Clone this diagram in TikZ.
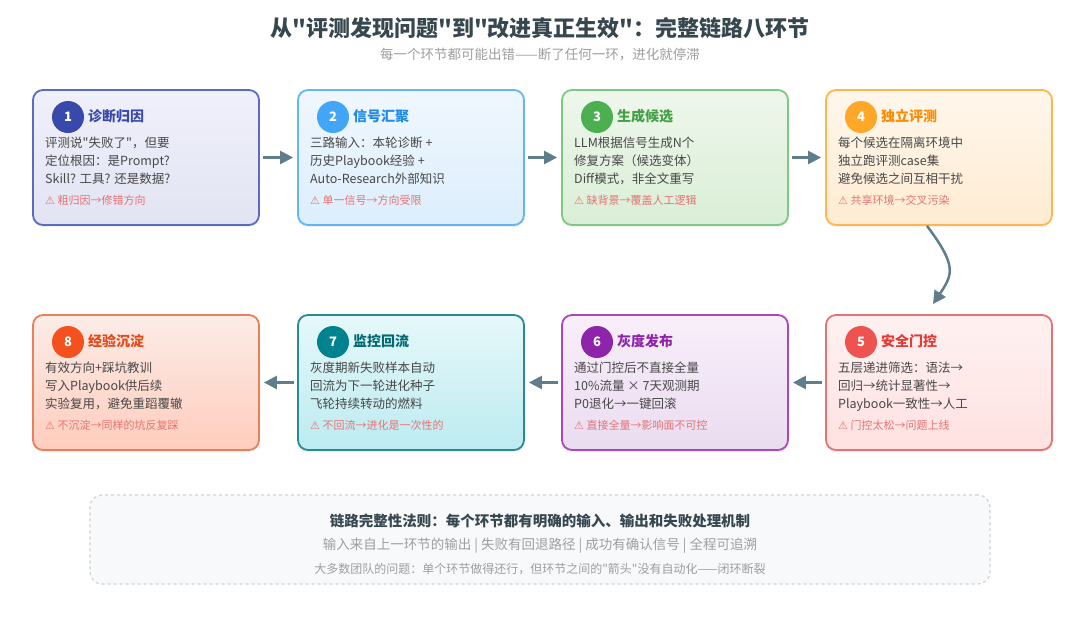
\documentclass[tikz,border=0pt]{standalone}
\usepackage{fontspec}
\setmainfont{Noto Sans CJK SC}
\newfontfamily\cjk{Noto Sans CJK SC}
\newfontfamily\symf{DejaVu Sans}
\AtBeginDocument{\cjk}
\usetikzlibrary{arrows.meta,shadows}

\definecolor{s1bd}{HTML}{5C6BC0}\definecolor{s1tp}{HTML}{EFF0FA}\definecolor{s1bt}{HTML}{E2E4F3}\definecolor{s1ci}{HTML}{3949AB}\definecolor{s1ti}{HTML}{3949AB}
\definecolor{s2bd}{HTML}{64B5F6}\definecolor{s2tp}{HTML}{F0F7FE}\definecolor{s2bt}{HTML}{DCEEFC}\definecolor{s2ci}{HTML}{42A5F5}\definecolor{s2ti}{HTML}{1E88E5}
\definecolor{s3bd}{HTML}{81C784}\definecolor{s3tp}{HTML}{EEF7EC}\definecolor{s3bt}{HTML}{DAEED6}\definecolor{s3ci}{HTML}{4CAF50}\definecolor{s3ti}{HTML}{43A047}
\definecolor{s4bd}{HTML}{FFB74D}\definecolor{s4tp}{HTML}{FFF7EC}\definecolor{s4bt}{HTML}{FFEBD2}\definecolor{s4ci}{HTML}{FFA726}\definecolor{s4ti}{HTML}{FB8C00}
\definecolor{s5bd}{HTML}{E57373}\definecolor{s5tp}{HTML}{FFF1F1}\definecolor{s5bt}{HTML}{FFE1E1}\definecolor{s5ci}{HTML}{EF5350}\definecolor{s5ti}{HTML}{E53935}
\definecolor{s6bd}{HTML}{AB47BC}\definecolor{s6tp}{HTML}{F8EFFA}\definecolor{s6bt}{HTML}{EADCF0}\definecolor{s6ci}{HTML}{8E24AA}\definecolor{s6ti}{HTML}{8E24AA}
\definecolor{s7bd}{HTML}{2A8A93}\definecolor{s7tp}{HTML}{E6F8FA}\definecolor{s7bt}{HTML}{BCEBF0}\definecolor{s7ci}{HTML}{00838F}\definecolor{s7ti}{HTML}{006A70}
\definecolor{s8bd}{HTML}{E8805C}\definecolor{s8tp}{HTML}{FCECE7}\definecolor{s8bt}{HTML}{FFCDBD}\definecolor{s8ci}{HTML}{F4511E}\definecolor{s8ti}{HTML}{E64A19}
\definecolor{bodygray}{HTML}{474747}
\definecolor{warnred}{HTML}{E57373}
\definecolor{arrowgray}{HTML}{607D8B}
\definecolor{titlegray}{HTML}{37474F}
\definecolor{subgray}{HTML}{9E9E9E}
\definecolor{rulefill}{HTML}{F8F9FA}
\definecolor{ruledraw}{HTML}{CDD2D6}

\tikzset{
  stagebox/.style={draw, rounded corners=10pt, line width=1.8pt, minimum width=226pt,
    minimum height=135pt, inner sep=0pt,
    drop shadow={opacity=0.10, shadow xshift=0pt, shadow yshift=-2pt}},
  numcirc/.style={circle, minimum size=32pt, inner sep=0pt, text=white,
    font=\fontsize{13}{13}\selectfont\bfseries},
  ttl/.style={font=\fontsize{14}{16}\selectfont\bfseries, anchor=base west, inner sep=0pt},
  bodyln/.style={font=\fontsize{12.5}{16}\selectfont, text=bodygray, anchor=base west, inner sep=0pt},
  warnln/.style={font=\fontsize{11}{13}\selectfont, text=warnred, anchor=base west, inner sep=0pt},
  flow/.style={draw=arrowgray, line width=2.5pt, -{Triangle[length=13pt,width=13pt]}},
  rulebox/.style={draw=ruledraw, fill=rulefill, dashed, line width=1.2pt, rounded corners=12pt,
    minimum width=900pt, minimum height=89pt, inner sep=0pt},
}

% #1 name, #2 left x, #3 top y, #4 colour prefix, #5 number, #6 title, #7 lines, #8 warning
\newcommand\makestage[8]{%
  \node[stagebox, draw=#4bd, top color=#4tp, bottom color=#4bt] (#1) at ({#2+113},{#3+67.5}) {};
  \node[numcirc, fill=#4ci] (#1n) at ({#2+35},{#3+27}) {#5};
  \node[ttl, text=#4ti] (#1t) at ({#2+55},{#3+31}) {#6};
  \foreach \lnx [count=\k] in {#7} {
    \node[bodyln] (#1l\k) at ({#2+12},{#3+57+18*(\k-1)}) {\lnx};
  }
  \node[warnln] (#1w) at ({#2+12},{#3+114}) {{\symf ⚠} #8};
}

\begin{document}
\begin{tikzpicture}[x=1pt,y=-1pt]
\useasboundingbox[fill=white] (0,0) rectangle (1080,630);

\node[font=\fontsize{22}{25}\selectfont\bfseries, text=titlegray] (title) at (540,28)
  {从"评测发现问题"到"改进真正生效"：完整链路八环节};
\node[font=\fontsize{13.5}{15}\selectfont, text=subgray] (subtitle) at (540,55)
  {每一个环节都可能出错——断了任何一环，进化就停滞};

\makestage{s1}{33}{90}{s1}{1}{诊断归因}
  {评测说"失败了"，但要, 定位根因：是Prompt?, Skill? 工具? 还是数据?}{粗归因→修错方向}
\makestage{s2}{298}{90}{s2}{2}{信号汇聚}
  {三路输入：本轮诊断 +, 历史Playbook经验 +, Auto-Research外部知识}{单一信号→方向受限}
\makestage{s3}{562}{90}{s3}{3}{生成候选}
  {LLM根据信号生成N个, 修复方案（候选变体）, Diff模式，非全文重写}{缺背景→覆盖人工逻辑}
\makestage{s4}{826}{90}{s4}{4}{独立评测}
  {每个候选在隔离环境中, 独立跑评测case集, 避免候选之间互相干扰}{共享环境→交叉污染}
\makestage{s5}{826}{315}{s5}{5}{安全门控}
  {五层递进筛选：语法→, 回归→统计显著性→, Playbook一致性→人工}{门控太松→问题上线}
\makestage{s6}{562}{315}{s6}{6}{灰度发布}
  {通过门控后不直接全量, 10\%流量 × 7天观测期, P0退化→一键回滚}{直接全量→影响面不可控}
\makestage{s7}{298}{315}{s7}{7}{监控回流}
  {灰度期新失败样本自动, 回流为下一轮进化种子, 飞轮持续转动的燃料}{不回流→进化是一次性的}
\makestage{s8}{33}{315}{s8}{8}{经验沉淀}
  {有效方向+踩坑教训, 写入Playbook供后续, 实验复用，避免重蹈覆辙}{不沉淀→同样的坑反复踩}

\draw[flow, shorten <=3pt, shorten >=4pt] (s1.east) -- (s2.west);
\draw[flow, shorten <=3pt, shorten >=4pt] (s2.east) -- (s3.west);
\draw[flow, shorten <=3pt, shorten >=4pt] (s3.east) -- (s4.west);
\draw[flow] ([xshift=-12pt]s4.south) .. controls +(30,40) and +(20,-30) .. ([xshift=-6pt,yshift=10pt]s5.north);
\draw[flow, shorten <=3pt, shorten >=4pt] (s5.west) -- (s6.east);
\draw[flow, shorten <=3pt, shorten >=4pt] (s6.west) -- (s7.east);
\draw[flow, shorten <=3pt, shorten >=4pt] (s7.west) -- (s8.east);

\node[rulebox] (rule) at (540,539.5) {};
\node[font=\fontsize{14.5}{17}\selectfont\bfseries, text=titlegray] (rule1) at (540,521)
  {链路完整性法则：每个环节都有明确的输入、输出和失败处理机制};
\node[font=\fontsize{13.5}{16}\selectfont, text=subgray] (rule2) at (540,546)
  {输入来自上一环节的输出 | 失败有回退路径 | 成功有确认信号 | 全程可追溯};
\node[font=\fontsize{12}{14}\selectfont, text=subgray] (rule3) at (540,569)
  {大多数团队的问题：单个环节做得还行，但环节之间的"箭头"没有自动化——闭环断裂};
\end{tikzpicture}
\end{document}
